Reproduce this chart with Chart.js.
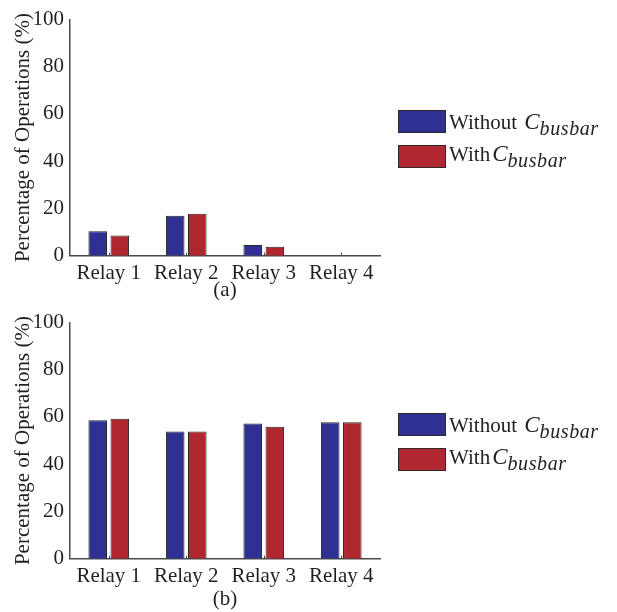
<!DOCTYPE html>
<html>
<head>
<meta charset="utf-8">
<script src="https://cdn.jsdelivr.net/npm/chart.js@4"></script>
<style>
    html, body { margin: 0; padding: 0; background: #fff; }
    body { width: 617px; height: 612px; position: relative; overflow: hidden; }
    .panel { position: absolute; left: 0; width: 617px; }
    .legend { position: absolute; left: 398px; top: 110px; font-family: "Liberation Serif", "Times New Roman", serif; color: #231f20; }
    .item { position: absolute; left: 0; width: 260px; height: 23px; }
    .box { position: absolute; left: 0; top: 0; width: 46px; height: 21px; border: 1px solid #2a2a2a; }
    .label { position: absolute; left: 51px; font-size: 21px; white-space: nowrap; line-height: 1; }
    .label i { font-size: 23px; padding-left: 2px; }
    .label sub { font-size: 20px; font-style: italic; vertical-align: -6px; line-height: 0; letter-spacing: 0.6px; }
</style>
</head>
<body>

<div class="panel" style="top:0;height:303px">
    <canvas id="chartA" width="617" height="303"></canvas>
    <div class="legend">
        <div class="item" style="top:0"><div class="box" style="background:#2e3192"></div><span class="label" style="top:0px">Without <i>C</i><sub>busbar</sub></span></div>
        <div class="item" style="top:35px"><div class="box" style="background:#b1272f"></div><span class="label" style="top:-3px">With<i>C</i><sub>busbar</sub></span></div>
    </div>
</div>

<div class="panel" style="top:303px;height:309px">
    <canvas id="chartB" width="617" height="309"></canvas>
    <div class="legend">
        <div class="item" style="top:0"><div class="box" style="background:#2e3192"></div><span class="label" style="top:0px">Without <i>C</i><sub>busbar</sub></span></div>
        <div class="item" style="top:35px"><div class="box" style="background:#b1272f"></div><span class="label" style="top:-3px">With<i>C</i><sub>busbar</sub></span></div>
    </div>
</div>

<script>
const relays = ['Relay 1', 'Relay 2', 'Relay 3', 'Relay 4'];
const yTicks = [0, 20, 40, 60, 80, 100];

// (a)
const withoutA = [10.4, 16.9, 4.5, 0];
const withA = [8.6, 17.8, 3.8, 0];

// (b)
const withoutB = [58.6, 53.8, 57.2, 57.8];
const withB = [59.3, 53.8, 55.9, 57.8];

const textColor = '#231f20';
const axisColor = '#4a4a4a';
const serif = '"Liberation Serif", "Times New Roman", serif';

// small upward tick marks at each category centre on the x axis
const innerTicks = {
    id: 'innerTicks',
    afterDraw(chart) {
        const { ctx, scales: { x } } = chart;
        ctx.save();
        ctx.strokeStyle = axisColor;
        ctx.lineWidth = 1;
        x.ticks.forEach((t, i) => {
            const px = Math.round(x.getPixelForTick(i)) + 0.5;
            ctx.beginPath();
            ctx.moveTo(px, x.top);
            ctx.lineTo(px, x.top - 3);
            ctx.stroke();
        });
        ctx.restore();
    }
};

function makeChart(id, seriesWithout, seriesWith, caption) {
    const canvas = document.getElementById(id);
    const ctx = canvas.getContext('2d');
    const plotBottom = 255.7;

    return new Chart(ctx, {
        type: 'bar',
        data: {
            labels: relays,
            datasets: [{
                label: 'Without C_busbar',
                data: seriesWithout,
                backgroundColor: '#2e3192',
                borderColor: '#262626',
                borderWidth: 1,
                categoryPercentage: 0.57,
                barPercentage: 0.84
            }, {
                label: 'With C_busbar',
                data: seriesWith,
                backgroundColor: '#b1272f',
                borderColor: '#262626',
                borderWidth: 1,
                categoryPercentage: 0.57,
                barPercentage: 0.84
            }]
        },
        options: {
            responsive: false,
            animation: false,
            layout: { padding: { top: 19.5, right: 237, left: 0, bottom: 0 } },
            plugins: {
                legend: { display: false },
                tooltip: { enabled: false }
            },
            scales: {
                x: {
                    grid: { display: false, drawTicks: false },
                    border: { color: axisColor, width: 1.5 },
                    ticks: { font: { family: serif, size: 21 }, color: textColor, padding: 5, maxRotation: 0 },
                    title: {
                        display: true,
                        text: caption,
                        font: { family: serif, size: 21 },
                        color: textColor,
                        padding: 0
                    },
                    afterFit: function (scale) { scale.height = canvas.height - plotBottom; }
                },
                y: {
                    min: 0,
                    max: 100,
                    afterBuildTicks: function (scale) { scale.ticks = yTicks.map(v => ({ value: v })); },
                    grid: { display: false, drawTicks: false },
                    border: { color: axisColor, width: 1.5 },
                    ticks: { font: { family: serif, size: 21 }, color: textColor, padding: 6 },
                    title: {
                        display: true,
                        text: 'Percentage of Operations (%)',
                        font: { family: serif, size: 21 },
                        color: textColor,
                        padding: { top: 11, bottom: 0 }
                    },
                    afterFit: function (scale) { scale.width = 70; }
                }
            }
        },
        plugins: [innerTicks]
    });
}

makeChart('chartA', withoutA, withA, '(a)');
makeChart('chartB', withoutB, withB, '(b)');
</script>
</body>
</html>
